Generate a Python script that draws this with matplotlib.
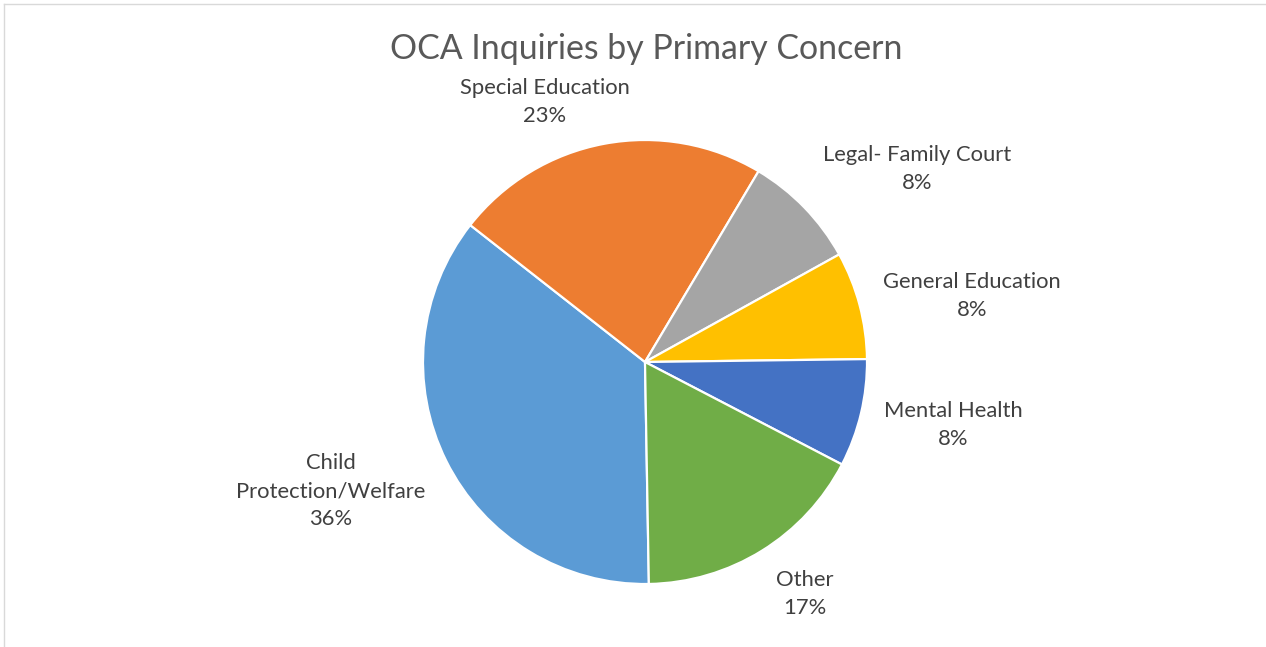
import matplotlib
matplotlib.use("Agg")
import matplotlib.pyplot as plt
from matplotlib.lines import Line2D

# inquiry counts per primary concern (clockwise from the bottom)
concerns = ["Child\nProtection/Welfare", "Special Education", "Legal- Family Court",
            "General Education", "Mental Health", "Other"]
counts = [128, 82, 30, 28, 28, 61]
colors = ["#5B9BD5", "#ED7D31", "#A5A5A5", "#FFC000", "#4472C4", "#70AD47"]

# label centres in pixels (x, y from top)
label_xy = [(331, 491), (545, 102), (917, 169), (972, 296), (953, 425), (805, 594)]

W, H = 1266, 647
cx, cy, r = 645, 362, 222

plt.rcParams['font.family'] = ['Lato', 'DejaVu Sans']

fig = plt.figure(figsize=(W / 100, H / 100), dpi=100)
fig.patch.set_facecolor("white")

ax = fig.add_axes([(cx - r) / W, (H - cy - r) / H, 2 * r / W, 2 * r / H])
ax.pie(counts, colors=colors, startangle=-89, counterclock=False, radius=1,
       wedgeprops=dict(edgecolor="white", linewidth=1.6))
ax.set_xlim(-1, 1)
ax.set_ylim(-1, 1)
ax.set_aspect("auto")
ax.axis("off")

total = sum(counts)
for name, n, (x, y) in zip(concerns, counts, label_xy):
    pct = round(n / total * 100)
    fig.text(x / W, 1 - y / H, f"{name}\n{pct}%", ha="center", va="center",
             fontsize=15.8, color="#404040", linespacing=1.5)

fig.text(646 / W, 1 - 49 / H, "OCA Inquiries by Primary Concern", ha="center",
         va="center", fontsize=24.4, color="#595959")

# thin chart-area border along the top and left edges
fig.add_artist(Line2D([4 / W, 1], [1 - 4 / H, 1 - 4 / H], transform=fig.transFigure,
                      color="#D9D9D9", linewidth=1))
fig.add_artist(Line2D([4 / W, 4 / W], [0, 1 - 4 / H], transform=fig.transFigure,
                      color="#D9D9D9", linewidth=1))

fig.savefig("out.png", dpi=100, facecolor="white")
